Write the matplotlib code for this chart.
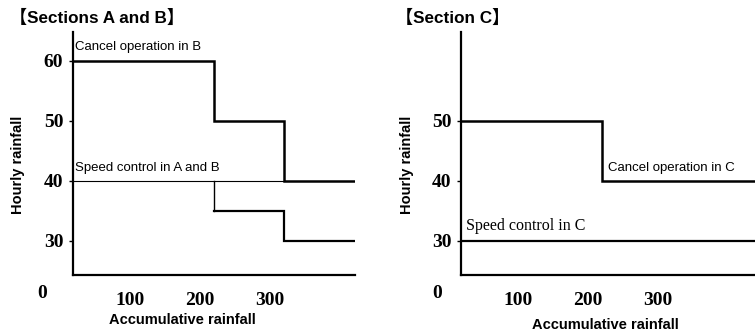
import matplotlib.pyplot as plt

# step thresholds (accumulative rainfall -> hourly rainfall)
ab_cancel_x = [18.6, 220, 220, 320, 320, 421]
ab_cancel_y = [60, 60, 50, 50, 40, 40]
ab_speed_x = [220, 220, 320, 320, 421]
ab_speed_y = [40, 35, 35, 30, 30]
ab_speed_ref = 40
ab_speed_ref_end = 320

c_cancel_x = [18.6, 220, 220, 460]
c_cancel_y = [50, 50, 40, 40]
c_speed_x = [18.6, 460]
c_speed_y = [30, 30]

x_ticks = [100, 200, 300]
ab_y_ticks = [30, 40, 50, 60]
c_y_ticks = [30, 40, 50]

W, H = 755, 335
fig = plt.figure(figsize=(W / 100, H / 100), dpi=100)

label_font = ['Liberation Sans', 'Noto Sans CJK JP']
num_font = 'Liberation Serif'


def make_axes(left_px, right_px, xmax, yticks):
    ax = fig.add_axes([left_px / W, (H - 275) / H, (right_px - left_px) / W, (275 - 32) / H])
    ax.set_xlim(18.6, xmax)
    ax.set_ylim(24.33, 64.83)
    for s in ['top', 'right']:
        ax.spines[s].set_visible(False)
    for s in ['left', 'bottom']:
        ax.spines[s].set_linewidth(1.6)
    ax.set_xticks(x_ticks)
    ax.set_yticks(yticks)
    ax.tick_params(axis='x', length=0, pad=12)
    ax.tick_params(axis='y', length=3, width=1, pad=4)
    for lab in ax.get_xticklabels() + ax.get_yticklabels():
        lab.set_fontfamily(num_font)
        lab.set_fontweight('bold')
        lab.set_fontsize(14)
    return ax


# Sections A and B
ax1 = make_axes(73, 355, 421.5, ab_y_ticks)
ax1.plot(ab_cancel_x, ab_cancel_y, color='black', lw=1.8, solid_joinstyle='miter')
ax1.plot([18.6, ab_speed_ref_end], [ab_speed_ref, ab_speed_ref], color='black', lw=0.8)
ax1.plot(ab_speed_x[:2], ab_speed_y[:2], color='black', lw=1.0)
ax1.plot(ab_speed_x[1:], ab_speed_y[1:], color='black', lw=1.6, solid_joinstyle='miter')
ax1.text(22, 61.4, 'Cancel operation in B', fontsize=9.5, family=label_font, va='bottom')
ax1.text(22, 41.2, 'Speed control in A and B', fontsize=9.5, family=label_font, va='bottom')

# Section C
ax2 = make_axes(461, 765, 452.9, c_y_ticks)
ax2.plot(c_cancel_x, c_cancel_y, color='black', lw=1.8, solid_joinstyle='miter')
ax2.plot(c_speed_x, c_speed_y, color='black', lw=1.6)
ax2.text(228, 41.2, 'Cancel operation in C', fontsize=9.5, family=label_font, va='bottom')
ax2.text(26, 31.2, 'Speed control in C', fontsize=11.5, family=num_font, va='bottom')

# titles, axis labels, origin zeros
fig.text(10 / W, 1 - 17 / H, '【Sections A and B】', fontsize=12.3, family=label_font,
         weight='bold', va='center', ha='left')
fig.text(396 / W, 1 - 17 / H, '【Section C】', fontsize=12.3, family=label_font,
         weight='bold', va='center', ha='left')
for x in [18, 407]:
    fig.text(x / W, 1 - 165 / H, 'Hourly rainfall', fontsize=10.5, family=label_font,
             weight='bold', rotation=90, va='center', ha='center')
fig.text(182 / W, 1 - 320 / H, 'Accumulative rainfall', fontsize=10.5, family=label_font,
         weight='bold', va='center', ha='center')
fig.text(605 / W, 1 - 325 / H, 'Accumulative rainfall', fontsize=10.5, family=label_font,
         weight='bold', va='center', ha='center')
for x in [42, 437]:
    fig.text(x / W, 1 - 293 / H, '0', fontsize=14, family=num_font, weight='bold',
             va='center', ha='center')

fig.savefig('out.png', dpi=100)
